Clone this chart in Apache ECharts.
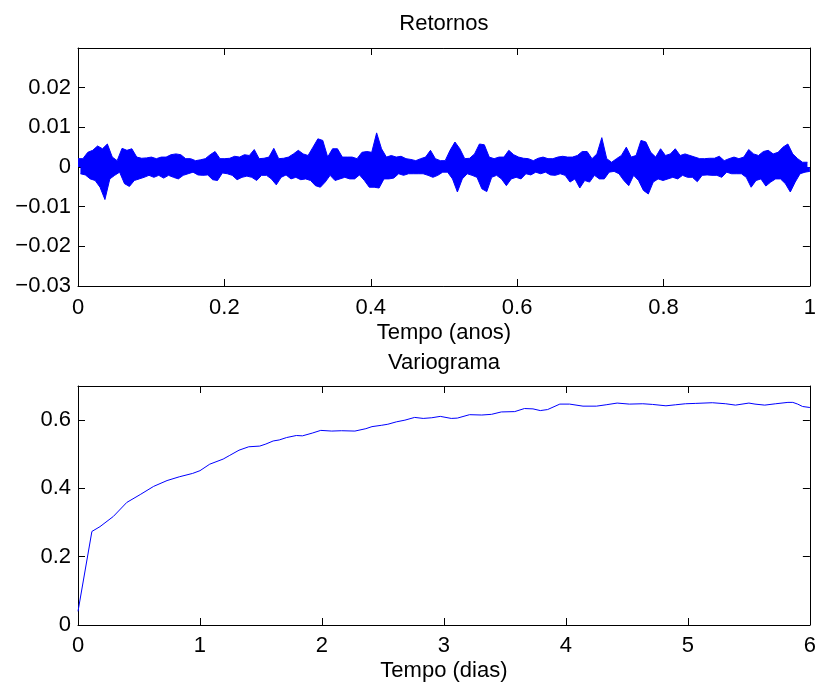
<!DOCTYPE html>
<html>
<head>
<meta charset="utf-8">
<script src="https://cdn.jsdelivr.net/npm/echarts@6/dist/echarts.min.js"></script>
<style>
html,body{margin:0;padding:0;background:#ffffff;}
#chart{width:819px;height:684px;}
</style>
</head>
<body>
<div id="chart"></div>
<script>
// ---- Texts ----
const topTitle = 'Retornos';
const topXName = 'Tempo (anos)';
const bottomTitle = 'Variograma';
const bottomXName = 'Tempo (dias)';

// ---- Top panel: returns envelope (per time bin: highest and lowest return) ----
const returnsHigh = [
  0.0021,0.0021,0.0037,0.0042,0.0053,0.0046,0.0058,0.0025,0.0016,0.0047,0.0042,0.0046,0.0025,0.0022,0.0023,0.0025,0.0021,0.0025,0.0025,0.0031,0.0033,0.0031,0.0021,0.0021,0.0016,
  0.0018,0.0021,0.0031,0.0039,0.0021,0.0021,0.0022,0.0027,0.0025,0.0031,0.0029,0.0044,0.0021,0.0022,0.0025,0.0047,0.0021,0.0022,0.0025,0.0033,0.0042,0.0033,0.0029,0.0050,0.0071,
  0.0067,0.0025,0.0046,0.0046,0.0025,0.0025,0.0025,0.0021,0.0037,0.0039,0.0037,0.0086,0.0046,0.0025,0.0029,0.0025,0.0027,0.0021,0.0019,0.0016,0.0021,0.0025,0.0042,0.0021,0.0016,
  0.0016,0.0042,0.0063,0.0046,0.0021,0.0022,0.0033,0.0058,0.0056,0.0025,0.0021,0.0025,0.0025,0.0042,0.0031,0.0025,0.0022,0.0021,0.0016,0.0022,0.0025,0.0021,0.0021,0.0025,0.0027,
  0.0025,0.0025,0.0029,0.0039,0.0039,0.0021,0.0033,0.0074,0.0021,0.0012,0.0021,0.0029,0.0050,0.0025,0.0029,0.0067,0.0063,0.0037,0.0025,0.0046,0.0029,0.0033,0.0046,0.0029,0.0033,
  0.0029,0.0025,0.0021,0.0021,0.0022,0.0022,0.0027,0.0016,0.0021,0.0025,0.0021,0.0025,0.0044,0.0033,0.0029,0.0039,0.0042,0.0033,0.0037,0.0050,0.0058,0.0033,0.0021,0.0012,0.0012
];
const returnsLow = [
  -0.0017,-0.0020,-0.0030,-0.0034,-0.0051,-0.0082,-0.0030,-0.0021,-0.0013,-0.0042,-0.0049,-0.0034,-0.0030,-0.0026,-0.0021,-0.0026,-0.0021,-0.0028,-0.0021,-0.0026,-0.0030,-0.0021,-0.0017,-0.0013,-0.0020,
  -0.0021,-0.0020,-0.0032,-0.0034,-0.0015,-0.0017,-0.0021,-0.0032,-0.0026,-0.0023,-0.0026,-0.0034,-0.0021,-0.0021,-0.0030,-0.0045,-0.0026,-0.0020,-0.0030,-0.0026,-0.0032,-0.0030,-0.0034,-0.0047,-0.0051,
  -0.0038,-0.0021,-0.0034,-0.0030,-0.0026,-0.0030,-0.0030,-0.0020,-0.0034,-0.0051,-0.0051,-0.0053,-0.0030,-0.0030,-0.0028,-0.0017,-0.0021,-0.0017,-0.0017,-0.0017,-0.0017,-0.0021,-0.0026,-0.0021,-0.0013,
  -0.0013,-0.0030,-0.0063,-0.0030,-0.0017,-0.0021,-0.0026,-0.0055,-0.0062,-0.0026,-0.0021,-0.0030,-0.0047,-0.0030,-0.0026,-0.0030,-0.0017,-0.0020,-0.0013,-0.0017,-0.0013,-0.0020,-0.0021,-0.0017,-0.0021,
  -0.0038,-0.0030,-0.0053,-0.0034,-0.0038,-0.0021,-0.0030,-0.0030,-0.0013,-0.0011,-0.0017,-0.0034,-0.0047,-0.0021,-0.0034,-0.0059,-0.0068,-0.0038,-0.0030,-0.0034,-0.0030,-0.0026,-0.0030,-0.0021,-0.0026,
  -0.0026,-0.0037,-0.0021,-0.0020,-0.0021,-0.0021,-0.0026,-0.0013,-0.0017,-0.0017,-0.0017,-0.0026,-0.0051,-0.0034,-0.0030,-0.0048,-0.0038,-0.0030,-0.0030,-0.0042,-0.0063,-0.0038,-0.0017,-0.0013,-0.0011
];
const topXTicks = [0, 0.2, 0.4, 0.6, 0.8, 1];
const topYTicks = [-0.03, -0.02, -0.01, 0, 0.01, 0.02];

// ---- Bottom panel: variogram ----
const lagDays = [0,0.114,0.18,0.29,0.40,0.51,0.62,0.73,0.83,0.94,1.0,1.08,1.19,1.24,1.32,1.40,1.49,1.54,1.60,1.65,
  1.71,1.79,1.84,1.92,1.99,2.08,2.16,2.27,2.36,2.41,2.49,2.54,2.61,2.68,2.76,2.83,2.90,2.97,3.06,3.11,
  3.21,3.31,3.39,3.47,3.58,3.66,3.73,3.79,3.85,3.95,4.03,4.14,4.25,4.33,4.42,4.52,4.63,4.71,4.82,4.90,
  4.98,5.06,5.20,5.31,5.39,5.50,5.55,5.63,5.72,5.82,5.86,5.90,5.94,6.0];
const variogram = [0.040,0.274,0.288,0.318,0.359,0.382,0.406,0.423,0.434,0.444,0.452,0.471,0.486,0.496,0.512,0.522,0.524,0.530,0.539,0.542,
  0.549,0.555,0.554,0.562,0.570,0.568,0.569,0.568,0.575,0.581,0.585,0.588,0.595,0.600,0.608,0.605,0.607,0.611,0.605,0.606,
  0.616,0.615,0.617,0.624,0.625,0.634,0.633,0.628,0.631,0.647,0.647,0.641,0.641,0.645,0.650,0.647,0.648,0.646,0.642,0.645,
  0.648,0.649,0.651,0.648,0.644,0.650,0.647,0.644,0.648,0.652,0.652,0.647,0.640,0.637];
const bottomXTicks = [0, 1, 2, 3, 4, 5, 6];
const bottomYTicks = [0, 0.2, 0.4, 0.6];

// ---- Build series data (bins spread evenly over the year) ----
const nBins = returnsHigh.length;
const highData = [];
const lowData = [];
for (let k = 0; k < nBins; k++) {
  highData.push([(2 * k) / (2 * nBins - 1), returnsHigh[k]]);
  lowData.push([(2 * k + 1) / (2 * nBins - 1), returnsLow[k]]);
}
const variogramData = lagDays.map((d, i) => [d, variogram[i]]);

const FONT = '"Liberation Sans", Arial, Helvetica, sans-serif';
const BLACK = '#000000';
const BLUE = '#0000ff';

function near(list, v) { return list.some(t => Math.abs(t - v) < 1e-9); }
function fmtSigned(v, digits) {
  if (Math.abs(v) < 1e-12) return '0';
  const s = Math.abs(v).toFixed(digits).replace(/\.?0+$/, '');
  return (v < 0 ? '\u2212' : '') + s;
}

function mainAxis(extra) {
  return Object.assign({
    type: 'value',
    axisLine: { show: true, onZero: false, lineStyle: { color: BLACK, width: 1 } },
    axisTick: { show: true, inside: true, length: 7, lineStyle: { color: BLACK, width: 1 } },
    splitLine: { show: false },
    axisLabel: { color: BLACK, fontFamily: FONT, fontSize: 22 },
    nameTextStyle: { color: BLACK, fontFamily: FONT, fontSize: 22 }
  }, extra);
}
function mirrorAxis(extra) {
  return Object.assign({
    type: 'value',
    axisLine: { show: true, onZero: false, lineStyle: { color: BLACK, width: 1 } },
    axisTick: { show: true, inside: true, length: 7, lineStyle: { color: BLACK, width: 1 } },
    splitLine: { show: false },
    axisLabel: { show: false },
    nameTextStyle: { color: BLACK, fontFamily: FONT, fontSize: 22 }
  }, extra);
}

function envelopeSeries(name, data) {
  return {
    name: name, type: 'line', xAxisIndex: 0, yAxisIndex: 0,
    data: data, showSymbol: false, symbol: 'none', smooth: false,
    lineStyle: { color: BLUE, width: 1 },
    areaStyle: { color: BLUE, opacity: 1, origin: 0 },
    clip: true, silent: true, sampling: null
  };
}

const chart = echarts.init(document.getElementById('chart'), null, { renderer: 'canvas' });
const option = {
  animation: false,
  backgroundColor: '#ffffff',
  grid: [
    { left: 78, top: 48, width: 737, height: 238, show: false },
    { left: 78, top: 386, width: 737, height: 239, show: false }
  ],
  xAxis: [
    mainAxis({ gridIndex: 0, position: 'bottom', min: 0, max: 1, interval: 0.2,
      name: topXName, nameLocation: 'middle', nameGap: 36,
      axisLabel: { color: BLACK, fontFamily: FONT, fontSize: 22, margin: 11,
        formatter: v => near(topXTicks, v) ? fmtSigned(v, 1) : '' } }),
    mirrorAxis({ gridIndex: 0, position: 'top', min: 0, max: 1, interval: 0.2,
      name: topTitle, nameLocation: 'middle', nameGap: 13 }),
    mainAxis({ gridIndex: 1, position: 'bottom', min: 0, max: 6, interval: 1,
      name: bottomXName, nameLocation: 'middle', nameGap: 35,
      axisLabel: { color: BLACK, fontFamily: FONT, fontSize: 22, margin: 10,
        formatter: v => near(bottomXTicks, v) ? fmtSigned(v, 0) : '' } }),
    mirrorAxis({ gridIndex: 1, position: 'top', min: 0, max: 6, interval: 1,
      name: bottomTitle, nameLocation: 'middle', nameGap: 12 })
  ],
  yAxis: [
    mainAxis({ gridIndex: 0, position: 'left', min: -0.03, max: 0.03, interval: 0.01,
      axisLabel: { color: BLACK, fontFamily: FONT, fontSize: 22, margin: 7,
        formatter: v => near(topYTicks, v) ? fmtSigned(v, 2) : '' } }),
    mirrorAxis({ gridIndex: 0, position: 'right', min: -0.03, max: 0.03, interval: 0.01 }),
    mainAxis({ gridIndex: 1, position: 'left', min: 0, max: 0.7, interval: 0.2,
      axisLabel: { color: BLACK, fontFamily: FONT, fontSize: 22, margin: 7,
        formatter: v => near(bottomYTicks, v) ? fmtSigned(v, 1) : '' } }),
    mirrorAxis({ gridIndex: 1, position: 'right', min: 0, max: 0.7, interval: 0.2 })
  ],
  series: [
    envelopeSeries('Retornos (máx.)', highData),
    envelopeSeries('Retornos (mín.)', lowData),
    {
      name: bottomTitle, type: 'line', xAxisIndex: 2, yAxisIndex: 2,
      data: variogramData, showSymbol: false, symbol: 'none', smooth: false,
      lineStyle: { color: BLUE, width: 1 },
      clip: true, silent: true
    }
  ]
};
chart.setOption(option);
</script>
</body>
</html>
